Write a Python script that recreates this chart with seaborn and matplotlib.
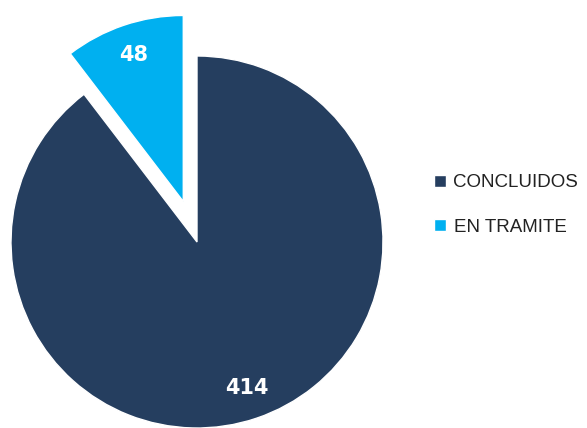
"""Pie chart: estado de los expedientes."""

import matplotlib.pyplot as plt
import seaborn as sns

sns.set_theme(style="white")
plt.rcParams["font.family"] = ["Liberation Sans", "DejaVu Sans"]

LABELS = ["CONCLUIDOS", "EN TRAMITE"]
VALUES = [414, 48]
COLORS = ["#253E5F", "#00B0F0"]
EXPLODE = [0.0, 0.23]

W, H = 587, 428
fig = plt.figure(figsize=(W / 100, H / 100), dpi=100)
# pie centre at (197, 242) px, radius 186 px
ax = fig.add_axes([(197 - 186) / W, (H - 242 - 186) / H, 372 / W, 372 / H])

wedges, texts, autotexts = ax.pie(
    VALUES,
    colors=COLORS,
    explode=EXPLODE,
    startangle=90,
    counterclock=False,
    autopct=lambda p: f"{round(p * sum(VALUES) / 100):d}",
    pctdistance=0.83,
    textprops={"color": "white", "fontsize": 15, "fontweight": "bold",
               "family": ["DejaVu Sans"]},
)
for w in wedges:
    w.set_clip_on(False)
ax.set_xlim(-1, 1)
ax.set_ylim(-1, 1)
ax.set_aspect("equal")
ax.axis("off")

fig.legend(
    wedges,
    LABELS,
    loc="center left",
    bbox_to_anchor=(434 / W, 1 - 205 / H),
    frameon=False,
    borderpad=0,
    borderaxespad=0,
    handlelength=0.64,
    handleheight=0.64,
    handletextpad=0.4,
    labelspacing=1.45,
    fontsize=13.5,
    labelcolor="#222222",
)

fig.savefig("out.png", dpi=100)
